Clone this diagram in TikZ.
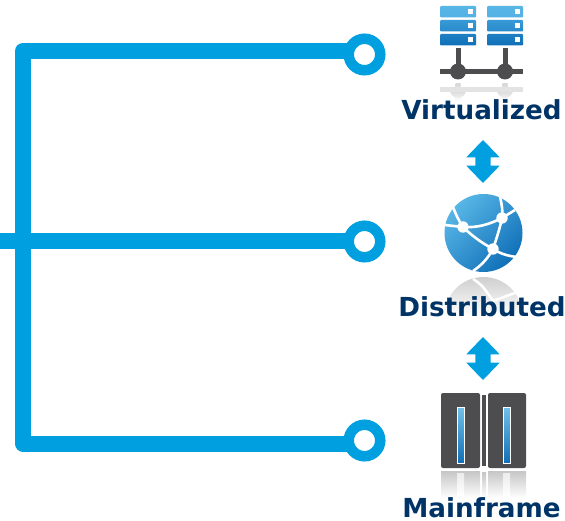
\documentclass[tikz,border=0pt]{standalone}
\usepackage{fontspec}
\setmainfont{DejaVu Sans}
\usetikzlibrary{shapes.arrows,backgrounds}
\definecolor{busblue}{RGB}{0,160,224}
\definecolor{navy}{RGB}{0,51,102}
\definecolor{slate}{RGB}{77,77,79}
\definecolor{paleblue}{RGB}{88,182,230}
\definecolor{midblue}{RGB}{52,150,212}
\definecolor{deepblue}{RGB}{16,112,184}
\tikzset{
	ring/.style={circle,draw=busblue,line width=10.5pt,fill=white,minimum size=31.5pt,inner sep=0pt},
	bus/.style={draw=busblue,line width=16pt,line join=round},
	title/.style={text=navy,font=\bfseries\fontsize{26.2}{30}\selectfont,inner sep=0pt,anchor=base},
	updown/.style={double arrow,fill=busblue,rotate=90,inner sep=0pt,inner ysep=7.5pt,outer sep=0pt,
		minimum height=43pt,minimum width=33pt,double arrow head extend=9pt,
		double arrow tip angle=88,double arrow head indent=0pt},
	netline/.style={draw=white,line width=2.6pt}
}
\begin{document}
\begin{tikzpicture}[x=1pt,y=-1pt]
	\useasboundingbox (0,0) rectangle (565,521);
	% the bus and its three ends
	\node [ring] (top) at (364.5,54.5) {};
	\node [ring] (mid) at (364.5,241.5) {};
	\node [ring] (low) at (364.5,440.5) {};
	\coordinate (topcorner) at (23,51);
	\coordinate (lowcorner) at (23,443.5);
	\coordinate (inlet) at (0,241);
	\begin{scope}[on background layer]
		\path [bus] (topcorner -| top) -- (topcorner) -- (lowcorner) -- (lowcorner -| low);
		\path [bus] (inlet) -- (inlet -| mid);
	\end{scope}
	% server racks and their reflection
	\foreach \x in {458,505} {
		\shade [top color=gray!30,bottom color=white] (\x-2.5,84) rectangle (\x+2.5,102);
		\shade [top color=gray!30,bottom color=gray!12] (\x-8,90) arc (180:360:8 and -8) -- cycle;
		\fill [slate] (\x-2.5,48) rectangle (\x+2.5,66);
		\fill [slate] (\x,71.5) circle (8);
	}
	\fill [gray!22] (440,87) rectangle (523,92);
	\fill [slate] (440,69) rectangle (523,74);
	\foreach \x in {440,487}
		\foreach \y/\a/\b in {6/paleblue/paleblue!85!midblue,20/midblue!90!paleblue/midblue!70!deepblue,34/midblue!40!deepblue/deepblue} {
			\shade [top color=\a,bottom color=\b,rounded corners=1pt] (\x,\y) rectangle (\x+36,\y+11.5);
			\fill [white] (\x+28,\y+3.5) rectangle (\x+33,\y+8.5);
		}
	% globe
	\begin{scope}
		\clip (483.5,316) circle (39);
		\shade [top color=gray!38,bottom color=white] (444,277) rectangle (523,316);
	\end{scope}
	\draw [netline] (473,279) .. controls (482,285) .. (493,301);
	\draw [netline] (493,301) -- (515,293);
	\shade [top color=paleblue,middle color=midblue!60!paleblue,bottom color=deepblue,shading angle=45] (483.5,233) circle (39);
	\coordinate (neta) at (463,227);
	\coordinate (netb) at (502,218);
	\coordinate (netc) at (493,249);
	\draw [netline] (neta) .. controls (478,228) and (490,224) .. (netb);
	\draw [netline] (neta) .. controls (472,236) and (482,243) .. (netc);
	\draw [netline] (netb) .. controls (500,228) and (496,240) .. (netc);
	\draw [netline] (neta) .. controls (459,221) and (456,215) .. (453,207);
	\draw [netline] (neta) -- (445,225);
	\draw [netline] (netb) .. controls (503,212) and (502,205) .. (500,197);
	\draw [netline] (netb) -- (515,210);
	\draw [netline] (netc) .. controls (499,253) and (507,256) .. (517,257);
	\draw [netline] (netc) .. controls (488,258) and (482,265) .. (473,271);
	\foreach \p in {neta,netb,netc}
		\fill [white] (\p) circle (5.7);
	% mainframe and its reflection
	\foreach \x/\w in {441/39,488/38} {
		\shade [top color=gray!45,bottom color=white] (\x,471) rectangle (\x+\w,498);
		\fill [slate,rounded corners=2pt] (\x,393) rectangle (\x+\w,468);
	}
	\shade [top color=gray!45,bottom color=white] (482,472) rectangle (486,498);
	\fill [slate] (482,395) rectangle (486,466);
	\foreach \x in {457,503} {
		\shade [top color=gray!15,bottom color=white] (\x,473) rectangle (\x+7,496);
		\shade [top color=paleblue!85!white,middle color=paleblue,bottom color=deepblue,draw=white,line width=1pt] (\x,407) rectangle (\x+7,463);
	}
	% titles
	\node [title] (virt) at (481.5,120) {Virtualized};
	\node [title] (dist) at (482,316.5) {Distributed};
	\node [title] (main) at (481.5,517.5) {Mainframe};
	% arrows between the titles
	\node [updown] (arrowa) at (483,161.5) {};
	\node [updown] (arrowb) at (483,358.5) {};
\end{tikzpicture}
\end{document}
